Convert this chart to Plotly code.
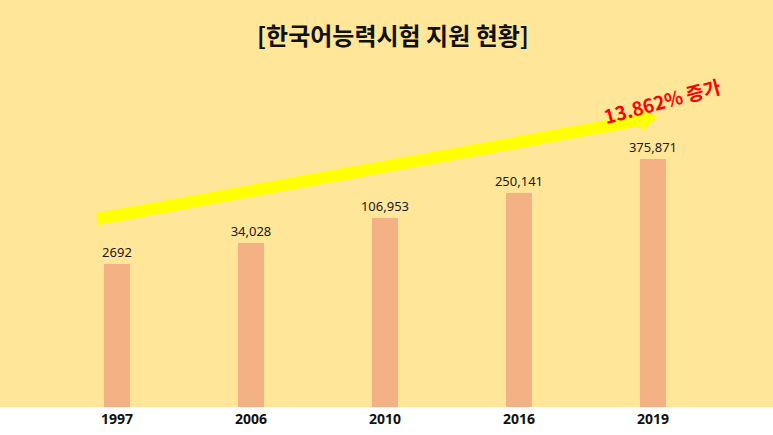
import plotly.graph_objects as go

# Data
years = ["1997", "2006", "2010", "2016", "2019"]
applicants = [2692, 34028, 106953, 250141, 375871]
# Displayed bar heights (the infographic does not draw bars to scale)
bar_heights = [143, 164, 189, 214, 248]
title_text = "[한국어능력시험 지원 현황]"
growth_text = "13.862% 증가"

W, H = 773, 435
PLOT_H = 407  # plot area height in px (bottom white strip below)

def px(x, y):
    return x / W, 1 - y / PLOT_H

labels = [f"{v:,}" if v >= 10000 else str(v) for v in applicants]

fig = go.Figure(go.Bar(
    x=years, y=bar_heights, width=0.194,
    marker=dict(color="#F4B183", line=dict(width=0)),
    text=labels, textposition="outside", constraintext="none",
    textfont=dict(family="Noto Sans, Open Sans, sans-serif", size=13, color="#1a1a1a"),
    cliponaxis=False, hoverinfo="skip",
))

# arrow (decoration)
x0, y0 = px(97, 219)
xb, yb = px(639.5, 120.2)
shapes = [dict(type="line", xref="paper", yref="paper", x0=x0, y0=y0, x1=xb, y1=yb,
               line=dict(color="#FFFF00", width=12), layer="above")]
t = px(658, 117)
c1 = px(641.5, 131.5)
c2 = px(637.5, 108.8)
shapes.append(dict(type="path", xref="paper", yref="paper",
                   path=f"M {t[0]} {t[1]} L {c1[0]} {c1[1]} L {c2[0]} {c2[1]} Z",
                   fillcolor="#FFFF00", line=dict(width=0), layer="above"))

gx, gy = px(662, 100)
tx, ty = px(393, 34)
annotations = [
    dict(text=growth_text, xref="paper", yref="paper", x=gx, y=gy, showarrow=False,
         textangle=-15, xanchor="center", yanchor="middle",
         font=dict(family="Noto Sans CJK KR, Noto Sans, sans-serif", size=19, color="#FF0000", weight="bold")),
    dict(text=title_text, xref="paper", yref="paper", x=tx, y=ty, showarrow=False,
         xanchor="center", yanchor="middle",
         font=dict(family="Noto Sans CJK KR, sans-serif", size=24, color="#111111", weight="bold")),
]

fig.update_layout(
    width=W, height=H,
    margin=dict(l=0, r=0, t=0, b=H - PLOT_H, pad=0),
    paper_bgcolor="#FFFFFF", plot_bgcolor="#FFE699",
    showlegend=False,
    shapes=shapes, annotations=annotations,
    xaxis=dict(type="category", range=[-0.873, 4.896], showgrid=False, zeroline=False,
               showline=False, ticks="", ticklabelstandoff=2,
               tickfont=dict(family="Noto Sans, Open Sans, sans-serif", size=14, color="#111111", weight="bold")),
    yaxis=dict(range=[0, PLOT_H], visible=False, showgrid=False, zeroline=False),
)

fig.write_html("out.html", config={"displayModeBar": False},
               post_script="document.body.style.margin='0';document.body.style.overflow='hidden';")
